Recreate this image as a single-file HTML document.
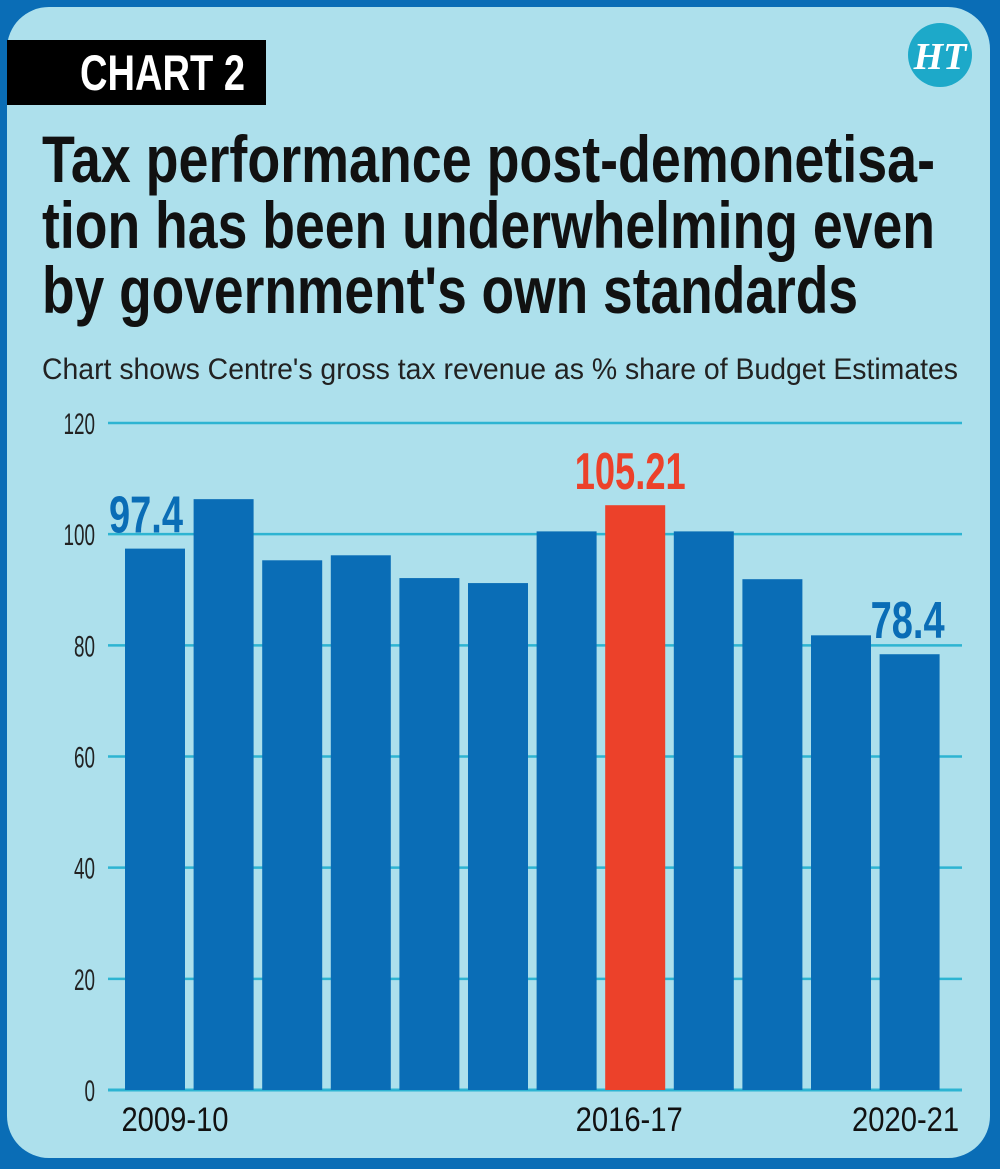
<!DOCTYPE html>
<html><head><meta charset="utf-8"><style>
html,body{margin:0;padding:0;background:#0a6db6;}
svg{display:block;}
text{font-family:"Liberation Sans Narrow","Liberation Sans",sans-serif;}
</style></head><body>
<svg id="chart" width="1000" height="1169" viewBox="0 0 1000 1169" xmlns="http://www.w3.org/2000/svg">
<rect x="0" y="0" width="1000" height="1169" fill="#0a6db6"/>
<rect x="7" y="7" width="983" height="1151" rx="42" fill="#ade0ec"/>
<rect x="7" y="40" width="259" height="65" fill="#000"/>
<text x="80" y="90" font-size="50" font-weight="bold" fill="#fff" textLength="165" lengthAdjust="spacingAndGlyphs">CHART 2</text>
<g>
<circle cx="940" cy="55" r="32" fill="#1da9c9"/>
<text x="940" y="69" font-size="38" font-weight="bold" font-style="italic" fill="#fff" text-anchor="middle" style="font-family:'Liberation Serif',serif">HT</text>
</g>
<text x="42" y="182" font-size="66" font-weight="bold" fill="#111" textLength="893" lengthAdjust="spacingAndGlyphs">Tax performance post-demonetisa-</text>
<text x="42" y="248" font-size="66" font-weight="bold" fill="#111" textLength="893" lengthAdjust="spacingAndGlyphs">tion has been underwhelming even</text>
<text x="42" y="313" font-size="66" font-weight="bold" fill="#111" textLength="816" lengthAdjust="spacingAndGlyphs">by government's own standards</text>
<text x="42" y="379" font-size="30" fill="#222" textLength="916" lengthAdjust="spacingAndGlyphs">Chart shows Centre's gross tax revenue as % share of Budget Estimates</text>
<g id="grid"></g>
<g id="bars"></g>
<g id="labels"></g>
</svg>
<script>
const categories = ["2009-10","2010-11","2011-12","2012-13","2013-14","2014-15","2015-16","2016-17","2017-18","2018-19","2019-20","2020-21"];
const values = [97.4,106.3,95.3,96.2,92.1,91.2,100.5,105.21,100.5,91.9,81.8,78.4];
const yTicks = [0,20,40,60,80,100,120];
const xTickLabels = {"2009-10":"2009-10","2016-17":"2016-17","2020-21":"2020-21"};
const valueLabels = {"2009-10":"97.4","2016-17":"105.21","2020-21":"78.4"};
const highlight = "2016-17";

const NS="http://www.w3.org/2000/svg";
const y0=1090, yTop=423, vMax=120;
function yScale(v){return y0-(v/vMax)*(y0-yTop);}
const bx0=125, pitch=68.6, bw=60;
function xScale(i){return bx0+i*pitch;}
function mk(tag,attrs,parent){const e=document.createElementNS(NS,tag);for(const k in attrs)e.setAttribute(k,attrs[k]);parent.appendChild(e);return e;}
const grid=document.getElementById('grid'), bars=document.getElementById('bars'), labels=document.getElementById('labels');
yTicks.forEach(t=>{
  const l=mk('line',{x1:108,x2:962,y1:yScale(t),y2:yScale(t),stroke:'#2db4d2','stroke-width':t===0?3:2.5},grid);
  
  
  const s=String(t);
  const tx=mk('text',{x:95,y:yScale(t)+11,'font-size':30,fill:'#222','text-anchor':'end',textLength:s.length*10.5,lengthAdjust:'spacingAndGlyphs'},grid);
  tx.textContent=s;
  
  
});
const n=categories.length;
categories.forEach((c,i)=>{
  const v=values[i];
  const r=mk('rect',{x:xScale(i),y:yScale(v),width:bw,height:y0-yScale(v),fill:c===highlight?'#ec412a':'#0a6db6'},bars);
  
  
  const cx=xScale(i)+bw/2;
  if(xTickLabels[c]){
    const s=xTickLabels[c];
    const off = i===0?20:(i===n-1?-4:-6);
    const t=mk('text',{x:cx+off,y:1131,'font-size':34,fill:'#111','text-anchor':'middle',textLength:s.length*15.3,lengthAdjust:'spacingAndGlyphs'},labels);
    t.textContent=s;
    
    
  }
  if(valueLabels[c]){
    const s=valueLabels[c];
    const off = i===0?-9:(i===n-1?-2:-5);
    const t=mk('text',{x:cx+off,y:yScale(v)-16,'font-size':52,'font-weight':'bold',fill:c===highlight?'#ec412a':'#0a6db6','text-anchor':'middle',textLength:s.length*18.5,lengthAdjust:'spacingAndGlyphs'},labels);
    t.textContent=s;
    
    
  }
});
</script>
</body></html>
